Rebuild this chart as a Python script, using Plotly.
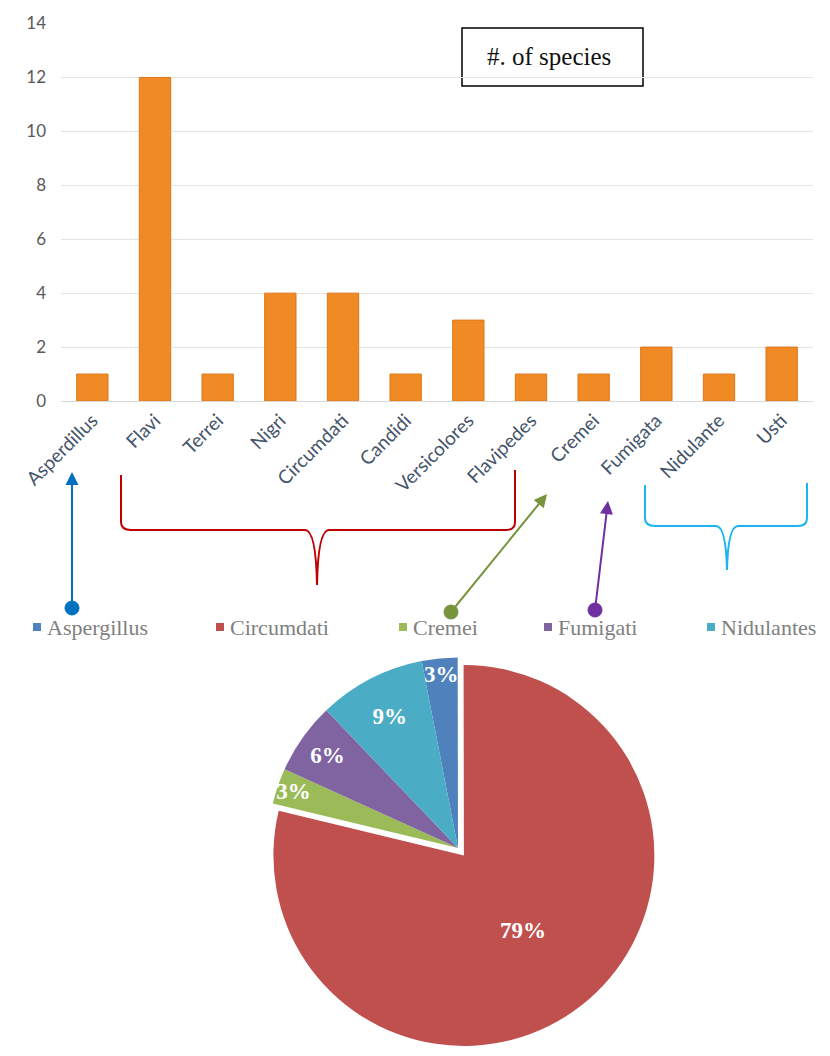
import plotly.graph_objects as go

# ---------------- data ----------------
categories = ["Asperdillus", "Flavi", "Terrei", "Nigri", "Circumdati", "Candidi",
              "Versicolores", "Flavipedes", "Cremei", "Fumigata", "Nidulante", "Usti"]
species_counts = [1, 12, 1, 4, 4, 1, 3, 1, 1, 2, 1, 2]
y_ticks = [0, 2, 4, 6, 8, 10, 12, 14]

pie_labels = ["Aspergillus", "Circumdati", "Cremei", "Fumigati", "Nidulantes"]
pie_values = [1, 26, 1, 2, 3]
pie_colors = ["#4F81BD", "#C0504D", "#9BBB59", "#8064A2", "#4BACC6"]
pie_pull = [0, 0.05, 0, 0, 0]
legend_x_px = [37, 220, 403, 548, 711]

W, H = 830, 1056


def X(px):
    return px / W


def Y(py):
    return 1 - py / H


def path(cmds):
    out = []
    for c in cmds:
        op, pts = c[0], c[1:]
        coords = []
        for i in range(0, len(pts), 2):
            coords.append(f"{X(pts[i]):.5f},{Y(pts[i+1]):.5f}")
        out.append(op + " " + " ".join(coords))
    return " ".join(out)


fig = go.Figure()

fig.add_trace(go.Bar(
    x=categories, y=species_counts,
    marker=dict(color="#F08A24", line=dict(color="#E2761A", width=1)),
    width=0.5, showlegend=False, hoverinfo="x+y",
))

fig.add_trace(go.Pie(
    labels=pie_labels, values=pie_values, sort=False, direction="clockwise",
    rotation=-11, pull=pie_pull,
    marker=dict(colors=pie_colors, line=dict(width=0)),
    texttemplate="%{percent:.0%}", textposition="inside",
    insidetextorientation="horizontal",
    textfont=dict(family="Liberation Serif", size=23, color="white", weight="bold"),
    domain=dict(x=[X(230), X(686)], y=[Y(1048), Y(648)]),
    showlegend=False,
))

shapes = []
# text box
shapes.append(dict(type="rect", xref="paper", yref="paper",
                   x0=X(462), x1=X(643), y0=Y(86), y1=Y(28),
                   line=dict(color="black", width=1.5), fillcolor="white", layer="below"))
# red bracket
shapes.append(dict(type="path", xref="paper", yref="paper",
                   path=path([("M", 121, 475), ("L", 121, 522), ("Q", 121, 530, 131, 530),
                              ("L", 305, 530), ("Q", 316, 530, 317, 585),
                              ("Q", 318, 530, 329, 530), ("L", 506, 530),
                              ("Q", 515, 530, 515, 522), ("L", 515, 470)]),
                   line=dict(color="#C00000", width=2)))
# cyan bracket
shapes.append(dict(type="path", xref="paper", yref="paper",
                   path=path([("M", 645, 485), ("L", 645, 518), ("Q", 645, 526, 655, 526),
                              ("L", 716, 526), ("Q", 726, 526, 727, 570),
                              ("Q", 728, 526, 738, 526), ("L", 798, 526),
                              ("Q", 807, 526, 807, 518), ("L", 807, 483)]),
                   line=dict(color="#1BB3F0", width=2)))
# dots
for (cx, cy, col) in [(72, 608, "#0070C0"), (451, 612, "#77933C"), (595, 610, "#7030A0")]:
    r = 7
    shapes.append(dict(type="circle", xref="paper", yref="paper",
                       x0=X(cx - r), x1=X(cx + r), y0=Y(cy + r), y1=Y(cy - r),
                       line=dict(color=col, width=1), fillcolor=col, layer="above"))

annotations = []
annotations.append(dict(x=X(549), y=Y(57), xref="paper", yref="paper",
                        xanchor="center", yanchor="middle",
                        text="#. of species", showarrow=False,
                        font=dict(family="Liberation Serif", size=25, color="#111111")))
for (hx, hy, tx, ty, col) in [(72, 472, 72, 608, "#0070C0"),
                              (547, 494, 451, 612, "#77933C"),
                              (608, 501, 595, 610, "#7030A0")]:
    annotations.append(dict(x=X(hx), y=Y(hy), xref="paper", yref="paper",
                            ax=tx - hx, ay=ty - hy, axref="pixel", ayref="pixel",
                            text="", showarrow=True, arrowhead=2, arrowsize=1.3,
                            arrowwidth=2, arrowcolor=col))

# legend for the pie (squares + labels)
for lab, col, lx in zip(pie_labels, pie_colors, legend_x_px):
    shapes.append(dict(type="rect", xref="paper", yref="paper",
                       x0=X(lx - 4), x1=X(lx + 4), y0=Y(631), y1=Y(623),
                       line=dict(width=0), fillcolor=col))
    annotations.append(dict(x=X(lx + 8), y=Y(627), xref="paper", yref="paper",
                            xanchor="left", yanchor="middle", text=lab, showarrow=False,
                            font=dict(family="Liberation Serif", size=22, color="#808080")))

fig.update_layout(
    width=W, height=H, margin=dict(l=0, r=0, t=0, b=0),
    paper_bgcolor="white", plot_bgcolor="white",
    bargap=0.5,
    xaxis=dict(domain=[X(61), X(813)], tickangle=-45, automargin=False,
               tickfont=dict(family="Lato", size=19, color="#44546A"),
               showgrid=False, showline=True, linecolor="#D9D9D9", ticks=""),
    yaxis=dict(domain=[Y(401), Y(23)], range=[0, 14.02], tickvals=y_ticks,
               automargin=False,
               tickfont=dict(family="Lato", size=17, color="#595959"),
               showgrid=True, gridcolor="#E4E4E4", zeroline=False,
               showline=False, ticklabelstandoff=14),
    showlegend=False,
    uniformtext=dict(minsize=21, mode="show"),
    shapes=shapes, annotations=annotations,
)

fig.write_html("out.html")
